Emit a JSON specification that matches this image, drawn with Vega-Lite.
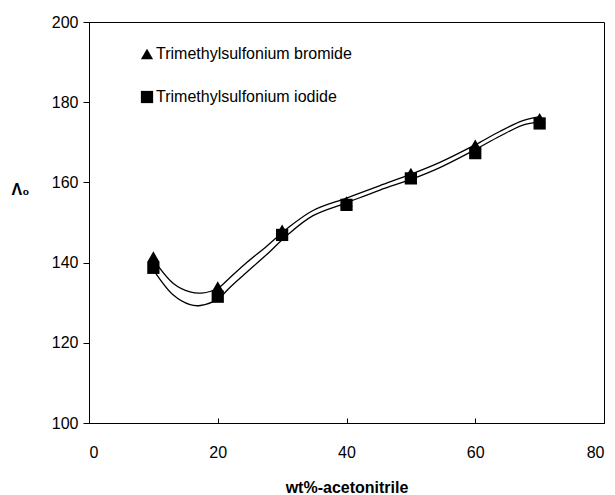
{
  "$schema": "https://vega.github.io/schema/vega-lite/v6.json",
  "width": 515,
  "height": 401,
  "autosize": {"type": "none"},
  "padding": {"left": 89, "top": 22, "right": 11, "bottom": 72},
  "background": "white",
  "config": {
    "view": {"stroke": "#000", "strokeWidth": 1},
    "font": "Liberation Sans",
    "axis": {
      "grid": false,
      "domainColor": "#000",
      "domainWidth": 1,
      "tickColor": "#000",
      "tickWidth": 1,
      "labelColor": "#000",
      "labelFont": "Liberation Sans",
      "labelFontSize": 16,
      "titleColor": "#000",
      "titleFont": "Liberation Sans",
      "titleFontSize": 16,
      "titleFontWeight": "bold"
    }
  },
  "datasets": {
    "points": [
      {"wt": 10, "L0": 141.5, "salt": "Trimethylsulfonium bromide"},
      {"wt": 20, "L0": 134.0, "salt": "Trimethylsulfonium bromide"},
      {"wt": 30, "L0": 148.2, "salt": "Trimethylsulfonium bromide"},
      {"wt": 40, "L0": 155.2, "salt": "Trimethylsulfonium bromide"},
      {"wt": 50, "L0": 162.3, "salt": "Trimethylsulfonium bromide"},
      {"wt": 60, "L0": 169.4, "salt": "Trimethylsulfonium bromide"},
      {"wt": 70, "L0": 176.0, "salt": "Trimethylsulfonium bromide"},
      {"wt": 10, "L0": 138.7, "salt": "Trimethylsulfonium iodide"},
      {"wt": 20, "L0": 131.5, "salt": "Trimethylsulfonium iodide"},
      {"wt": 30, "L0": 146.9, "salt": "Trimethylsulfonium iodide"},
      {"wt": 40, "L0": 154.4, "salt": "Trimethylsulfonium iodide"},
      {"wt": 50, "L0": 161.0, "salt": "Trimethylsulfonium iodide"},
      {"wt": 60, "L0": 167.3, "salt": "Trimethylsulfonium iodide"},
      {"wt": 70, "L0": 174.7, "salt": "Trimethylsulfonium iodide"}
    ],
    "curves": [
      {"wt": 10, "L0": 140.8, "series": "bromide"},
      {"wt": 13.1, "L0": 134.8, "series": "bromide"},
      {"wt": 15.7, "L0": 132.7, "series": "bromide"},
      {"wt": 17.5, "L0": 132.4, "series": "bromide"},
      {"wt": 20, "L0": 133.6, "series": "bromide"},
      {"wt": 22, "L0": 136.4, "series": "bromide"},
      {"wt": 24.5, "L0": 140.0, "series": "bromide"},
      {"wt": 27.6, "L0": 144.1, "series": "bromide"},
      {"wt": 30.7, "L0": 148.4, "series": "bromide"},
      {"wt": 34.8, "L0": 153.0, "series": "bromide"},
      {"wt": 40, "L0": 156.1, "series": "bromide"},
      {"wt": 45.2, "L0": 159.2, "series": "bromide"},
      {"wt": 50.1, "L0": 162.1, "series": "bromide"},
      {"wt": 54.5, "L0": 165.0, "series": "bromide"},
      {"wt": 59.9, "L0": 169.3, "series": "bromide"},
      {"wt": 63.8, "L0": 172.7, "series": "bromide"},
      {"wt": 67.4, "L0": 175.4, "series": "bromide"},
      {"wt": 70, "L0": 176.4, "series": "bromide"},
      {"wt": 10, "L0": 138.2, "series": "iodide"},
      {"wt": 13.1, "L0": 131.9, "series": "iodide"},
      {"wt": 15.7, "L0": 129.5, "series": "iodide"},
      {"wt": 17.3, "L0": 129.3, "series": "iodide"},
      {"wt": 20, "L0": 130.9, "series": "iodide"},
      {"wt": 22, "L0": 134.0, "series": "iodide"},
      {"wt": 24.5, "L0": 137.6, "series": "iodide"},
      {"wt": 27.6, "L0": 142.0, "series": "iodide"},
      {"wt": 30.7, "L0": 146.7, "series": "iodide"},
      {"wt": 34.8, "L0": 151.7, "series": "iodide"},
      {"wt": 40, "L0": 154.9, "series": "iodide"},
      {"wt": 45.2, "L0": 158.1, "series": "iodide"},
      {"wt": 50.1, "L0": 160.8, "series": "iodide"},
      {"wt": 54.5, "L0": 163.7, "series": "iodide"},
      {"wt": 59.9, "L0": 168.1, "series": "iodide"},
      {"wt": 63.8, "L0": 171.5, "series": "iodide"},
      {"wt": 67.4, "L0": 174.3, "series": "iodide"},
      {"wt": 70, "L0": 175.1, "series": "iodide"}
    ]
  },
  "layer": [
    {
      "data": {"name": "curves"},
      "mark": {"type": "line", "interpolate": "catmull-rom", "color": "#000", "strokeWidth": 1.3},
      "encoding": {
        "x": {"field": "wt", "type": "quantitative", "scale": {"domain": [0, 80], "nice": false},
          "axis": {"values": [0, 20, 40, 60, 80], "tickSize": -5, "labelPadding": 26, "title": "wt%-acetonitrile", "titlePadding": 19}},
        "y": {"field": "L0", "type": "quantitative", "scale": {"domain": [100, 200], "nice": false, "zero": false},
          "axis": {"values": [100, 120, 140, 160, 180, 200], "tickSize": 6, "labelPadding": 5, "title": "Λ₀", "titleAngle": 0, "titleX": -69, "titleY": 167, "titleAlign": "center", "titleBaseline": "middle"}},
        "detail": {"field": "series"}
      }
    },
    {
      "data": {"name": "points"},
      "mark": {"type": "point", "filled": true, "opacity": 1, "color": "#000", "size": 150},
      "encoding": {
        "x": {"field": "wt", "type": "quantitative"},
        "y": {"field": "L0", "type": "quantitative"},
        "shape": {"field": "salt", "type": "nominal",
          "scale": {"domain": ["Trimethylsulfonium bromide", "Trimethylsulfonium iodide"], "range": ["triangle-up", "square"]},
          "legend": {"orient": "none", "legendX": 50, "legendY": 24, "title": null, "direction": "vertical",
            "labelFontSize": 16, "labelFont": "Liberation Sans", "labelColor": "#000", "labelLimit": 400,
            "symbolSize": 150, "symbolFillColor": "#000", "symbolStrokeColor": "#000", "symbolStrokeWidth": 0,
            "rowPadding": 27, "labelOffset": 1, "padding": 0}}
      }
    }
  ]
}
